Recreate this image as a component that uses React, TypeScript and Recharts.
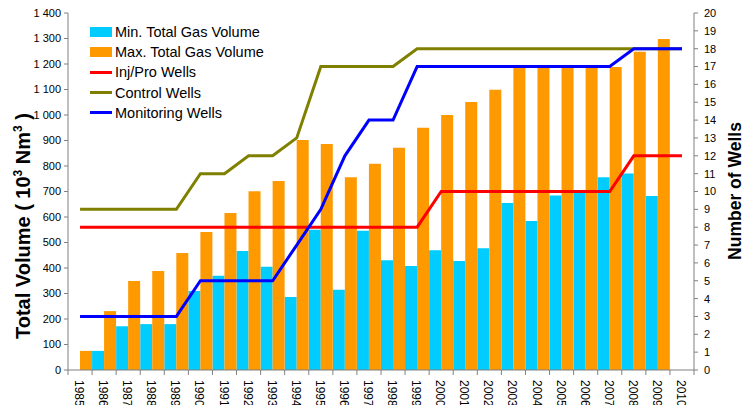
import React from 'react';
import { ComposedChart, Bar, Line, XAxis, YAxis, Legend, Label } from 'recharts';

// years on the category axis
const years = [
  '1985', '1986', '1987', '1988', '1989', '1990', '1991', '1992', '1993',
  '1994', '1995', '1996', '1997', '1998', '1999', '2000', '2001', '2002',
  '2003', '2004', '2005', '2006', '2007', '2008', '2009', '2010',
];

// gas volumes, 10^3 Nm^3
const minGasVolume = [
  null, 75, 172, 180, 180, 310, 370, 467, 405, 286, 550, 315, 546, 430, 408,
  470, 427, 477, 655, 584, 684, 694, 756, 771, 682, null,
];
const maxGasVolume = [
  75, 231, 349, 388, 459, 541, 616, 701, 741, 902, 886, 756, 809, 872, 950,
  1000, 1051, 1099, 1195, 1192, 1189, 1195, 1188, 1248, 1298, null,
];

// number of wells
const injProWells = [
  8, 8, 8, 8, 8, 8, 8, 8, 8, 8, 8, 8, 8, 8, 8,
  10, 10, 10, 10, 10, 10, 10, 10, 12, 12, 12,
];
const controlWells = [
  9, 9, 9, 9, 9, 11, 11, 12, 12, 13, 17, 17, 17, 17, 18,
  18, 18, 18, 18, 18, 18, 18, 18, 18, 18, 18,
];
const monitoringWells = [
  3, 3, 3, 3, 3, 5, 5, 5, 5, 7, 9, 12, 14, 14, 17,
  17, 17, 17, 17, 17, 17, 17, 17, 18, 18, 18,
];

const volumeTicks = [0, 100, 200, 300, 400, 500, 600, 700, 800, 900, 1000, 1100, 1200, 1300, 1400];
const wellTicks = [0, 1, 2, 3, 4, 5, 6, 7, 8, 9, 10, 11, 12, 13, 14, 15, 16, 17, 18, 19, 20];

const data = years.map((year, i) => ({
  year,
  minGas: minGasVolume[i],
  maxGas: maxGasVolume[i],
  injPro: injProWells[i],
  control: controlWells[i],
  monitoring: monitoringWells[i],
}));

const FONT = '"Liberation Sans", Arial, sans-serif';
const AXIS_COLOR = '#808080';
const PLOT_WIDTH = 626;
const BAND = PLOT_WIDTH / years.length;

const legendItems = [
  { label: 'Min. Total Gas Volume', color: '#00CCFF', kind: 'bar' },
  { label: 'Max. Total Gas Volume', color: '#FF9900', kind: 'bar' },
  { label: 'Inj/Pro Wells', color: '#FF0000', kind: 'line' },
  { label: 'Control Wells', color: '#808000', kind: 'line' },
  { label: 'Monitoring Wells', color: '#0000FF', kind: 'line' },
];

const formatVolume = (v: number) =>
  v >= 1000 ? `${Math.floor(v / 1000)} ${String(v % 1000).padStart(3, '0')}` : String(v);

// tick marks sit between the categories, labels are turned a quarter clockwise
const YearTick = ({ x, y, payload, index }: any) => (
  <g>
    <line x1={x - BAND / 2} y1={y} x2={x - BAND / 2} y2={y + 5} stroke={AXIS_COLOR} />
    {index === years.length - 1 && (
      <line x1={x + BAND / 2} y1={y} x2={x + BAND / 2} y2={y + 5} stroke={AXIS_COLOR} />
    )}
    <text
      x={0}
      y={0}
      transform={`translate(${x - 1},${y + 10}) rotate(90)`}
      textAnchor="start"
      dominantBaseline="central"
      fontSize={12}
      fontFamily={FONT}
      fill="#000"
    >
      {payload.value}
    </text>
  </g>
);

const VolumeTitle = () => (
  <text
    transform="translate(30,226) rotate(-90)"
    textAnchor="middle"
    fontSize={20}
    fontWeight="bold"
    fontFamily={FONT}
    fill="#000"
  >
    Total Volume ( 10<tspan dy={-8} fontSize={12}>3</tspan>
    <tspan dy={8}> Nm</tspan>
    <tspan dy={-8} fontSize={12}>3</tspan>
    <tspan dy={8}> )</tspan>
  </text>
);

const WellsTitle = () => (
  <text
    transform="translate(741,191) rotate(-90)"
    textAnchor="middle"
    fontSize={17.5}
    fontWeight="bold"
    fontFamily={FONT}
    fill="#000"
  >
    Number of Wells
  </text>
);

const ChartLegend = () => (
  <div style={{ fontFamily: FONT, fontSize: 14.5, color: '#000' }}>
    {legendItems.map((item) => (
      <div key={item.label} style={{ display: 'flex', alignItems: 'center', height: 20.2, whiteSpace: 'nowrap' }}>
        <span
          style={{
            display: 'inline-block',
            width: 22,
            height: item.kind === 'bar' ? 10 : 3,
            background: item.color,
            marginRight: 3,
          }}
        />
        {item.label}
      </div>
    ))}
  </div>
);

export default function App() {
  return (
    <div style={{ position: 'absolute', left: 0, top: 0, width: 752, height: 405, background: '#fff', overflow: 'hidden' }}>
      <ComposedChart
        width={752}
        height={405}
        data={data}
        margin={{ top: 13, right: 0, bottom: 0, left: 0 }}
        barCategoryGap={0}
        barGap={0}
      >
        <XAxis
          dataKey="year"
          height={35}
          interval={0}
          tickLine={false}
          tickSize={0}
          tickMargin={0}
          tick={<YearTick />}
          axisLine={{ stroke: AXIS_COLOR }}
        />
        <YAxis
          yAxisId="vol"
          width={68}
          domain={[0, 1400]}
          ticks={volumeTicks}
          interval={0}
          tickFormatter={formatVolume}
          tickSize={4}
          tickMargin={3}
          tick={{ fontSize: 11, fontFamily: FONT, fill: '#000' }}
          axisLine={{ stroke: AXIS_COLOR }}
          tickLine={{ stroke: AXIS_COLOR }}
        >
          <Label content={<VolumeTitle />} />
        </YAxis>
        <YAxis
          yAxisId="wells"
          orientation="right"
          width={58}
          domain={[0, 20]}
          ticks={wellTicks}
          interval={0}
          tickSize={4}
          tickMargin={6}
          tick={{ fontSize: 11, fontFamily: FONT, fill: '#000' }}
          axisLine={{ stroke: AXIS_COLOR }}
          tickLine={{ stroke: AXIS_COLOR }}
        >
          <Label content={<WellsTitle />} />
        </YAxis>
        <Legend
          layout="vertical"
          align="center"
          verticalAlign="middle"
          wrapperStyle={{ top: 22, left: 90, width: 'auto', height: 'auto' }}
          content={<ChartLegend />}
        />
        <Bar yAxisId="vol" dataKey="minGas" name="Min. Total Gas Volume" fill="#00CCFF" isAnimationActive={false} />
        <Bar yAxisId="vol" dataKey="maxGas" name="Max. Total Gas Volume" fill="#FF9900" isAnimationActive={false} />
        <Line yAxisId="wells" type="linear" dataKey="injPro" name="Inj/Pro Wells" stroke="#FF0000" strokeWidth={3} dot={false} isAnimationActive={false} />
        <Line yAxisId="wells" type="linear" dataKey="control" name="Control Wells" stroke="#808000" strokeWidth={3} dot={false} isAnimationActive={false} />
        <Line yAxisId="wells" type="linear" dataKey="monitoring" name="Monitoring Wells" stroke="#0000FF" strokeWidth={3} dot={false} isAnimationActive={false} />
      </ComposedChart>
    </div>
  );
}
